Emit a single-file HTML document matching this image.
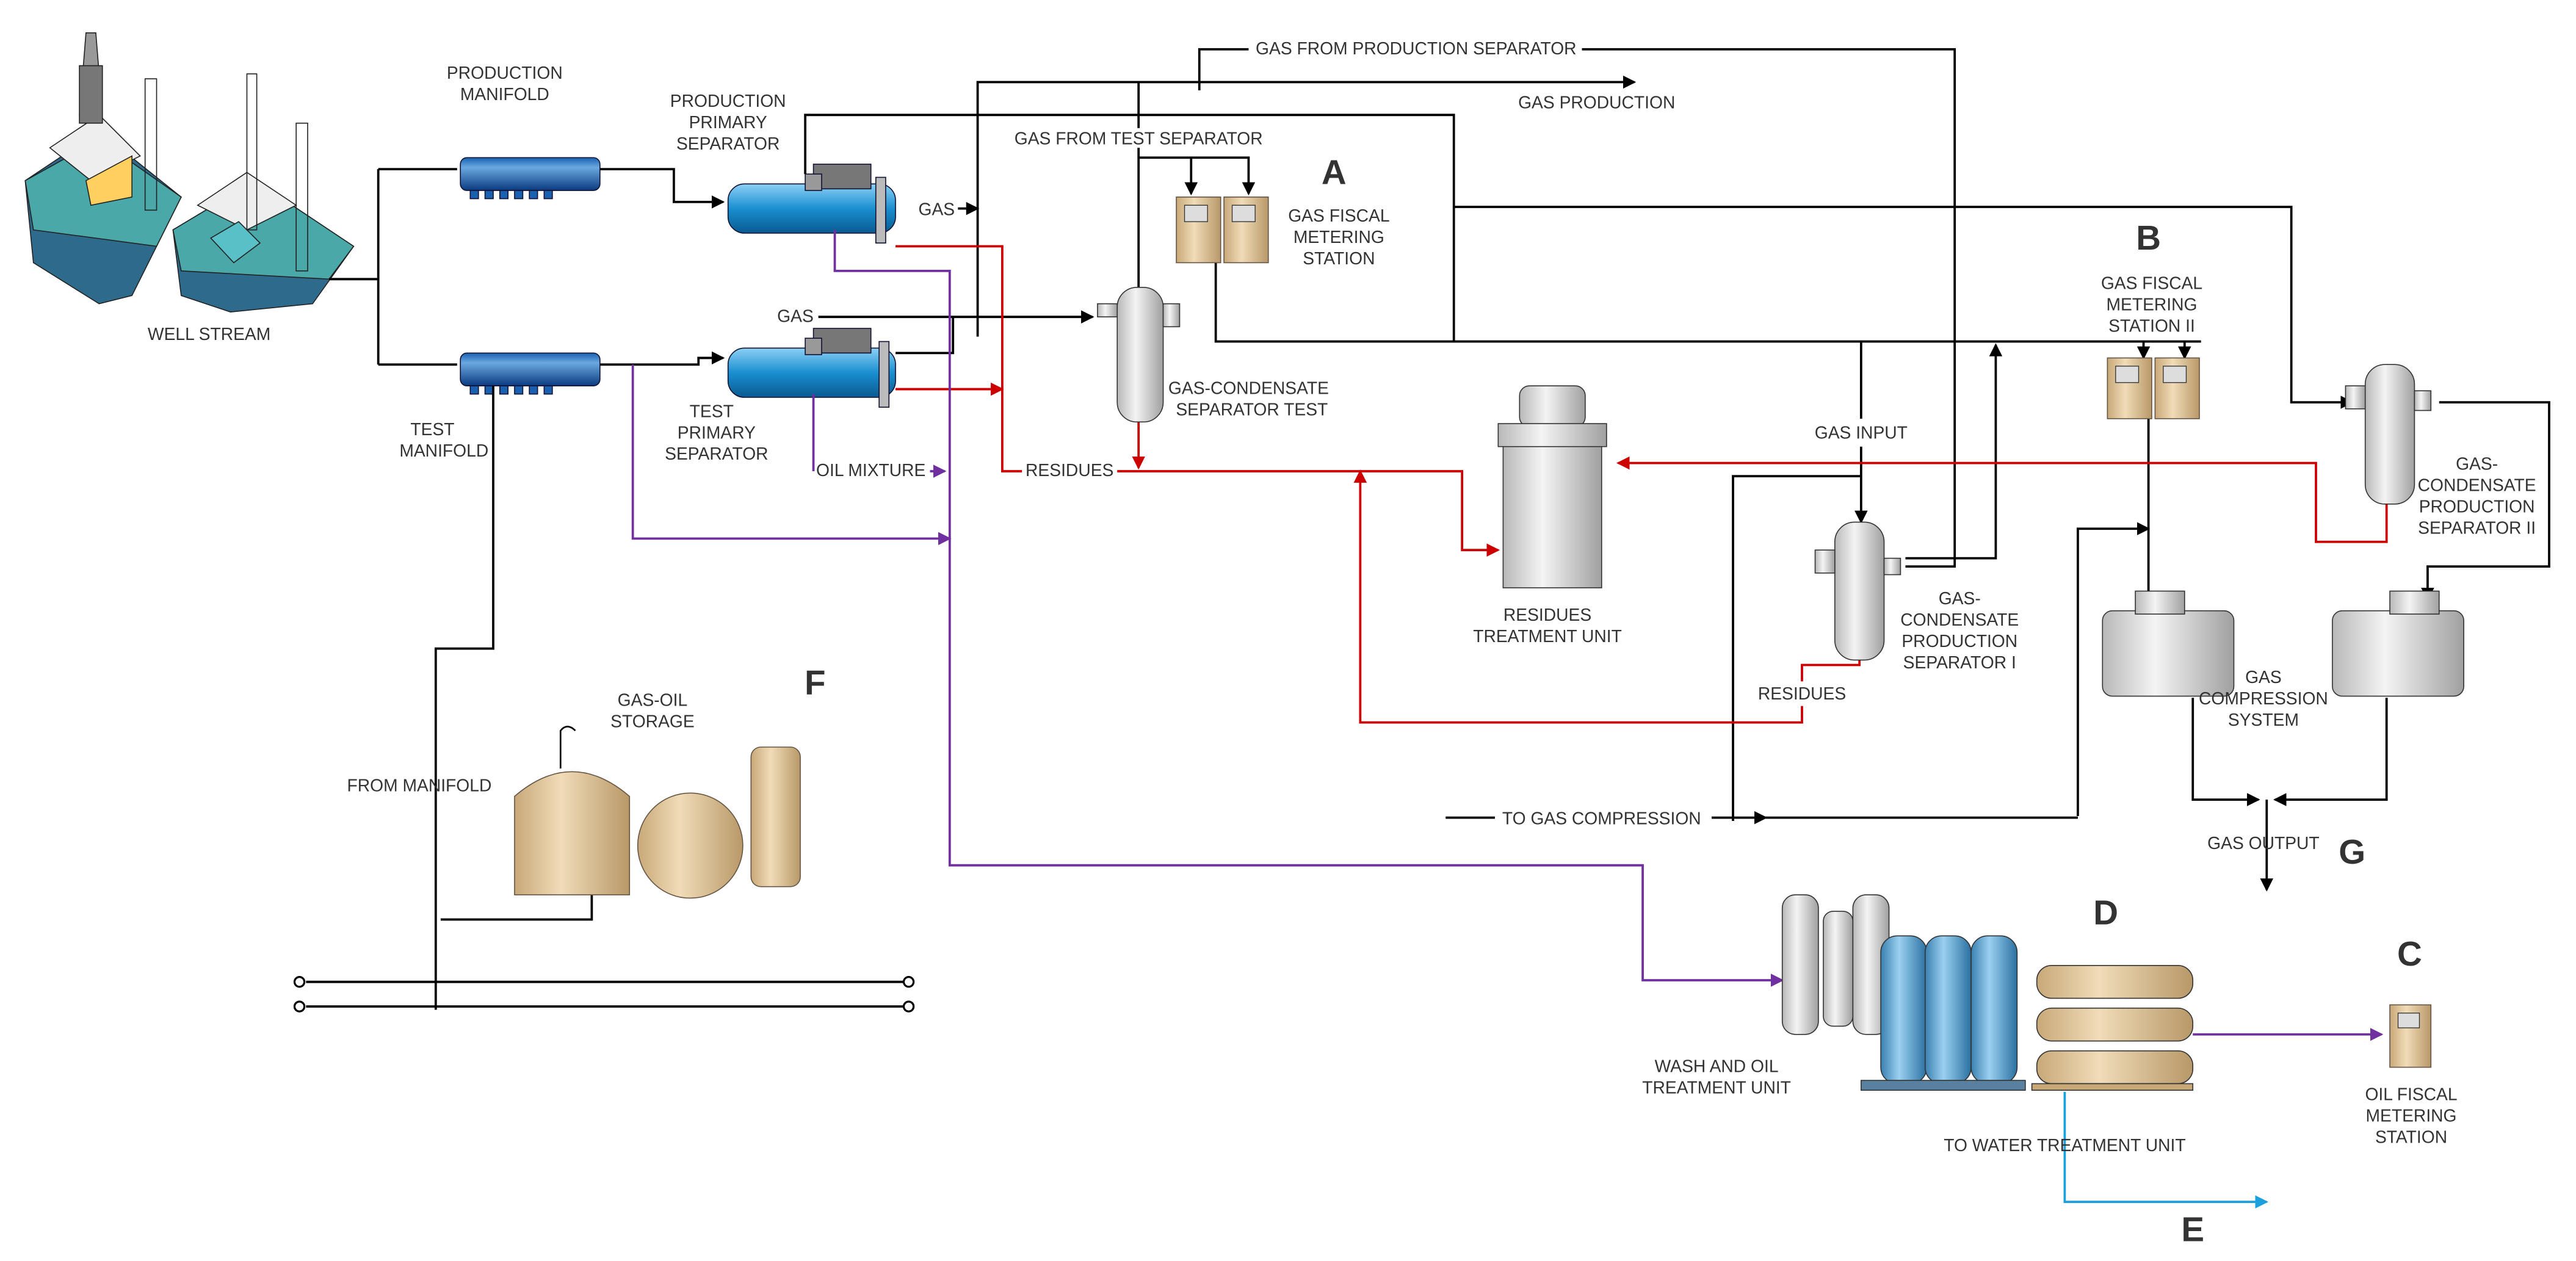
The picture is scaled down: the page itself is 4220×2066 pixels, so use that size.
<!DOCTYPE html>
<html><head><meta charset="utf-8"><style>
html,body{margin:0;padding:0;background:#fff;}
svg{display:block;}
text{font-family:"Liberation Sans",Arial,sans-serif;font-size:10.5px;fill:#333;text-anchor:middle;}
.big{font-size:21px;font-weight:bold;fill:#333;}
</style></head><body>
<svg width="4220" height="2066" viewBox="0 0 1568 768" xmlns="http://www.w3.org/2000/svg">
<defs>
<marker id="ak" markerWidth="8" markerHeight="8" refX="7" refY="4" orient="auto" markerUnits="userSpaceOnUse"><path d="M0,0 L8,4 L0,8z" fill="#000"/></marker>
<marker id="ar" markerWidth="8" markerHeight="8" refX="7" refY="4" orient="auto" markerUnits="userSpaceOnUse"><path d="M0,0 L8,4 L0,8z" fill="#c00"/></marker>
<marker id="ap" markerWidth="8" markerHeight="8" refX="7" refY="4" orient="auto" markerUnits="userSpaceOnUse"><path d="M0,0 L8,4 L0,8z" fill="#7030a0"/></marker>
<marker id="ab" markerWidth="8" markerHeight="8" refX="7" refY="4" orient="auto" markerUnits="userSpaceOnUse"><path d="M0,0 L8,4 L0,8z" fill="#1aa0dc"/></marker>
<linearGradient id="blue" x1="0" y1="0" x2="0" y2="1"><stop offset="0" stop-color="#8cd0f5"/><stop offset=".5" stop-color="#1a8fd0"/><stop offset="1" stop-color="#0a5a90"/></linearGradient>
<linearGradient id="dblue" x1="0" y1="0" x2="0" y2="1"><stop offset="0" stop-color="#1a60b0"/><stop offset=".3" stop-color="#6aa8e0"/><stop offset="1" stop-color="#0a3a80"/></linearGradient>
<linearGradient id="gray" x1="0" y1="0" x2="1" y2="0"><stop offset="0" stop-color="#b8b8b8"/><stop offset=".4" stop-color="#f4f4f4"/><stop offset="1" stop-color="#a0a0a0"/></linearGradient>
<linearGradient id="tan" x1="0" y1="0" x2="1" y2="0"><stop offset="0" stop-color="#c8a878"/><stop offset=".4" stop-color="#f0dcb8"/><stop offset="1" stop-color="#b89868"/></linearGradient>
<linearGradient id="lblue" x1="0" y1="0" x2="1" y2="0"><stop offset="0" stop-color="#3a80b0"/><stop offset=".4" stop-color="#9ad0f0"/><stop offset="1" stop-color="#2a70a0"/></linearGradient>
</defs>

<!-- Platform -->
<g stroke="#222" stroke-width=".6">
<path d="M15,110 L60,80 L110,120 L80,180 L60,185 L20,160z" fill="#2e6a8c"/>
<path d="M15,110 L60,85 L110,120 L95,150 L20,140z" fill="#4aa8a8"/>
<path d="M30,90 L60,70 L85,95 L55,110z" fill="#eee"/>
<polygon points="52,110 80,95 80,120 55,125" fill="#ffd060"/>
<path d="M52,20 L58,20 L62,70 L48,70z" fill="#999"/>
<rect x="48" y="40" width="14" height="35" fill="#777"/>
<path d="M105,140 L155,110 L215,150 L190,185 L140,190 L110,180z" fill="#2e6a8c"/>
<path d="M105,140 L155,110 L215,150 L200,170 L110,165z" fill="#4aa8a8"/>
<path d="M120,125 L150,105 L180,125 L150,140z" fill="#eee"/>
<polygon points="128,145 145,135 158,148 142,160" fill="#5ac0c8"/>
<rect x="88" y="48" width="7" height="80" fill="none"/>
<rect x="150" y="45" width="6" height="95" fill="none"/>
<rect x="180" y="75" width="7" height="90" fill="none"/>
</g>
<text x="127" y="207">WELL STREAM</text>

<!-- well stream lines -->
<g stroke="#000" stroke-width="1.4" fill="none">
<path d="M200,170 L230,170 M230,103 L230,222 M230,103 L278,103 M230,222 L278,222"/>
<path d="M365,103 L410,103 L410,123 L440,123" marker-end="url(#ak)"/>
<path d="M365,222 L425,222 L425,218 L440,218" marker-end="url(#ak)"/>
</g>

<!-- manifolds -->
<g stroke="#113" stroke-width=".6">
<rect x="280" y="96" width="85" height="20" rx="4" fill="url(#dblue)"/>
<rect x="280" y="215" width="85" height="20" rx="4" fill="url(#dblue)"/>
<g fill="#1a60b0">
<rect x="286" y="116" width="5" height="5"/><rect x="295" y="116" width="5" height="5"/><rect x="304" y="116" width="5" height="5"/><rect x="313" y="116" width="5" height="5"/><rect x="322" y="116" width="5" height="5"/><rect x="331" y="116" width="5" height="5"/>
<rect x="286" y="235" width="5" height="5"/><rect x="295" y="235" width="5" height="5"/><rect x="304" y="235" width="5" height="5"/><rect x="313" y="235" width="5" height="5"/><rect x="322" y="235" width="5" height="5"/><rect x="331" y="235" width="5" height="5"/>
</g></g>
<text x="307" y="48">PRODUCTION</text><text x="307" y="61">MANIFOLD</text>
<text x="263" y="265">TEST</text><text x="270" y="278">MANIFOLD</text>

<!-- primary separators -->
<g stroke="#113" stroke-width=".6">
<rect x="443" y="112" width="102" height="30" rx="10" fill="url(#blue)"/>
<rect x="495" y="100" width="35" height="15" fill="#777"/><rect x="490" y="106" width="10" height="10" fill="#999"/>
<rect x="533" y="108" width="6" height="40" fill="#bbb"/>
<rect x="443" y="212" width="102" height="30" rx="10" fill="url(#blue)"/>
<rect x="495" y="200" width="35" height="15" fill="#777"/><rect x="490" y="206" width="10" height="10" fill="#999"/>
<rect x="535" y="208" width="6" height="40" fill="#bbb"/>
</g>
<text x="443" y="65">PRODUCTION</text><text x="443" y="78">PRIMARY</text><text x="443" y="91">SEPARATOR</text>
<text x="433" y="254">TEST</text><text x="436" y="267">PRIMARY</text><text x="436" y="280">SEPARATOR</text>

<!-- black gas lines -->
<g stroke="#000" stroke-width="1.4" fill="none">
<path d="M490,106 L490,70 L885,70 L885,208"/>
<path d="M583,127 L595,127" marker-end="url(#ak)"/>
<path d="M595,205 L595,50 L995,50" marker-end="url(#ak)"/>
<path d="M730,55 L730,30 L760,30 M963,30 L1190,30 L1190,345 L1160,345"/>
<path d="M693,50 L693,78 M693,90 L693,190" />
<path d="M693,96 L760,96 L760,118" marker-end="url(#ak)"/>
<path d="M725,96 L725,118" marker-end="url(#ak)"/>
<path d="M498,193 L665,193" marker-end="url(#ak)"/>
<path d="M545,215 L580,215 L580,193"/>
<path d="M740,160 L740,208 L1340,208"/>
<path d="M885,126 L1395,126 L1395,245 L1432,245" marker-end="url(#ak)"/>
<path d="M1305,208 L1305,218" marker-end="url(#ak)"/>
<path d="M1330,208 L1330,218" marker-end="url(#ak)"/>
<path d="M1133,208 L1133,255 M1133,272 L1133,318" marker-end="url(#ak)"/>
<path d="M1055,500 L1055,290 L1133,290"/>
<path d="M1160,340 L1215,340 L1215,210" marker-end="url(#ak)"/>
<path d="M1485,245 L1552,245 L1552,345 L1478,345 L1478,365" marker-end="url(#ak)"/>
<path d="M1308,255 L1308,362"/>
<path d="M1265,497 L1265,322 L1308,322" marker-end="url(#ak)"/>
<path d="M880,498 L910,498"/>
<path d="M1042,498 L1075,498" marker-end="url(#ak)"/>
<path d="M1075,498 L1265,498"/>
<path d="M1335,425 L1335,487 L1375,487" marker-end="url(#ak)"/>
<path d="M1453,425 L1453,487 L1385,487" marker-end="url(#ak)"/>
<path d="M1380,487 L1380,542" marker-end="url(#ak)"/>
<path d="M300,235 L300,395 L265,395 L265,615 M268,560 L360,560 L360,545"/>
<path d="M186,598 L550,598 M186,613 L550,613"/>
</g>
<g fill="none" stroke="#000" stroke-width="1.2"><circle cx="182" cy="598" r="3"/><circle cx="182" cy="613" r="3"/><circle cx="553" cy="598" r="3"/><circle cx="553" cy="613" r="3"/></g>
<text x="570" y="131">GAS</text><text x="484" y="196">GAS</text>
<text x="862" y="33">GAS FROM PRODUCTION SEPARATOR</text>
<text x="972" y="66">GAS PRODUCTION</text>
<text x="693" y="88">GAS FROM TEST SEPARATOR</text>
<text x="1133" y="267">GAS INPUT</text>
<text x="975" y="502">TO GAS COMPRESSION</text>
<text x="1378" y="517">GAS OUTPUT</text>
<text x="255" y="482">FROM MANIFOLD</text>

<!-- red lines -->
<g stroke="#c00" stroke-width="1.4" fill="none">
<path d="M545,150 L610,150 L610,287 L622,287"/>
<path d="M680,287 L890,287 L890,335 L912,335" marker-end="url(#ar)"/>
<path d="M545,237 L610,237" marker-end="url(#ar)"/>
<path d="M693,255 L693,285" marker-end="url(#ar)"/>
<path d="M1132,400 L1132,405 L1097,405 L1097,415 M1097,430 L1097,440 L828,440 L828,287" marker-end="url(#ar)"/>
<path d="M1453,305 L1453,330 L1410,330 L1410,282 L985,282" marker-end="url(#ar)"/>
</g>
<text x="651" y="290">RESIDUES</text><text x="1097" y="426">RESIDUES</text>

<!-- purple -->
<g stroke="#7030a0" stroke-width="1.4" fill="none">
<path d="M508,140 L508,165 L578,165 L578,527 L1000,527 L1000,597 L1085,597" marker-end="url(#ap)"/>
<path d="M385,222 L385,328 L578,328" marker-end="url(#ap)"/>
<path d="M495,240 L495,287"/>
<path d="M566,287 L575,287" marker-end="url(#ap)"/>
<path d="M1335,630 L1450,630" marker-end="url(#ap)"/>
</g>
<text x="530" y="290">OIL MIXTURE</text>
<path d="M1257,665 L1257,732 L1380,732" stroke="#1aa0dc" stroke-width="1.4" fill="none" marker-end="url(#ab)"/>
<text x="1257" y="701">TO WATER TREATMENT UNIT</text>

<!-- separator vessels -->
<g stroke="#333" stroke-width=".6" fill="url(#gray)">
<rect x="680" y="175" width="28" height="82" rx="12"/><rect x="668" y="185" width="12" height="8"/><rect x="708" y="185" width="10" height="14"/>
<rect x="1117" y="318" width="30" height="84" rx="12"/><rect x="1105" y="335" width="12" height="14"/><rect x="1147" y="340" width="10" height="10"/>
<rect x="1440" y="222" width="30" height="85" rx="12"/><rect x="1428" y="235" width="12" height="14"/><rect x="1470" y="238" width="10" height="12"/>
<rect x="915" y="260" width="60" height="98"/><rect x="925" y="235" width="40" height="25" rx="6"/><rect x="912" y="258" width="66" height="14"/>
</g>
<text x="760" y="240">GAS-CONDENSATE</text><text x="762" y="253">SEPARATOR TEST</text>
<text x="942" y="378">RESIDUES</text><text x="942" y="391">TREATMENT UNIT</text>
<text x="1193" y="368">GAS-</text><text x="1193" y="381">CONDENSATE</text><text x="1193" y="394">PRODUCTION</text><text x="1193" y="407">SEPARATOR I</text>
<text x="1508" y="286">GAS-</text><text x="1508" y="299">CONDENSATE</text><text x="1508" y="312">PRODUCTION</text><text x="1508" y="325">SEPARATOR II</text>

<!-- metering stations -->
<g stroke="#654" stroke-width=".6" fill="url(#tan)">
<rect x="716" y="120" width="27" height="40"/><rect x="745" y="120" width="27" height="40"/>
<rect x="1283" y="218" width="27" height="37"/><rect x="1312" y="218" width="27" height="37"/>
<rect x="1455" y="612" width="25" height="38"/>
</g>
<g fill="#ddd" stroke="#333" stroke-width=".5"><rect x="721" y="125" width="14" height="10"/><rect x="750" y="125" width="14" height="10"/><rect x="1288" y="223" width="14" height="10"/><rect x="1317" y="223" width="14" height="10"/><rect x="1460" y="617" width="13" height="9"/></g>
<text class="big" x="812" y="112">A</text>
<text x="815" y="135">GAS FISCAL</text><text x="815" y="148">METERING</text><text x="815" y="161">STATION</text>
<text class="big" x="1308" y="152">B</text>
<text x="1310" y="176">GAS FISCAL</text><text x="1310" y="189">METERING</text><text x="1310" y="202">STATION II</text>
<text class="big" x="1467" y="588">C</text>
<text x="1468" y="670">OIL FISCAL</text><text x="1468" y="683">METERING</text><text x="1468" y="696">STATION</text>

<!-- compressors -->
<g stroke="#333" stroke-width=".6" fill="url(#gray)">
<rect x="1280" y="372" width="80" height="52" rx="6"/><rect x="1300" y="360" width="30" height="14"/>
<rect x="1420" y="372" width="80" height="52" rx="6"/><rect x="1455" y="360" width="30" height="14"/>
</g>
<text x="1378" y="416">GAS</text><text x="1378" y="429">COMPRESSION</text><text x="1378" y="442">SYSTEM</text>
<text class="big" x="1432" y="526">G</text>

<!-- D unit -->
<g stroke="#333" stroke-width=".6">
<rect x="1085" y="545" width="22" height="85" rx="8" fill="url(#gray)"/>
<rect x="1110" y="555" width="18" height="70" rx="6" fill="url(#gray)"/>
<rect x="1128" y="545" width="22" height="85" rx="8" fill="url(#gray)"/>
<rect x="1145" y="570" width="28" height="90" rx="10" fill="url(#lblue)"/>
<rect x="1172" y="570" width="28" height="90" rx="10" fill="url(#lblue)"/>
<rect x="1200" y="570" width="28" height="90" rx="10" fill="url(#lblue)"/>
<rect x="1133" y="658" width="100" height="6" fill="#5a80a0"/>
<rect x="1240" y="588" width="95" height="20" rx="9" fill="url(#tan)"/>
<rect x="1240" y="614" width="95" height="20" rx="9" fill="url(#tan)"/>
<rect x="1240" y="640" width="95" height="20" rx="9" fill="url(#tan)"/>
<rect x="1237" y="660" width="98" height="4" fill="#c8a878"/>
</g>
<text class="big" x="1282" y="563">D</text>
<text x="1045" y="653">WASH AND OIL</text><text x="1045" y="666">TREATMENT UNIT</text>
<text class="big" x="1335" y="756">E</text>

<!-- F storage -->
<g stroke="#654" stroke-width=".6" fill="url(#tan)">
<path d="M313,485 Q348,455 383,485 L383,545 L313,545z"/>
<circle cx="420" cy="515" r="32"/>
<rect x="457" y="455" width="30" height="85" rx="6"/>
</g>
<path d="M341,468 L341,445 Q345,440 350,445" stroke="#000" fill="none" stroke-width="1"/>
<text x="397" y="430">GAS-OIL</text><text x="397" y="443">STORAGE</text>
<text class="big" x="496" y="423">F</text>
</svg>
</body></html>
